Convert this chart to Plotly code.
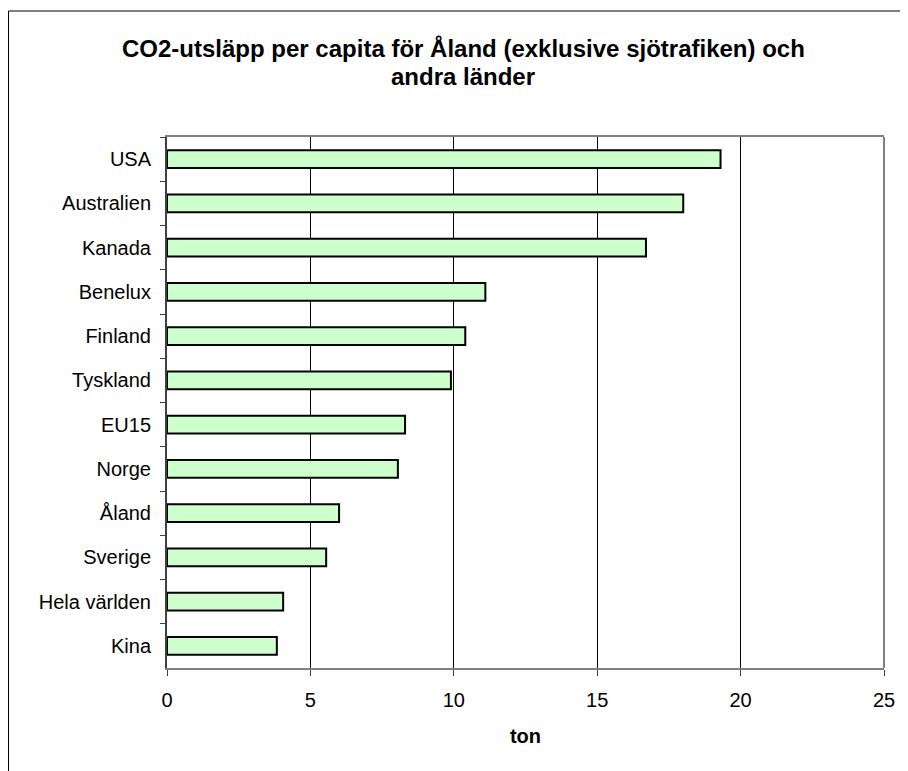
import plotly.graph_objects as go

categories = ["USA", "Australien", "Kanada", "Benelux", "Finland", "Tyskland",
              "EU15", "Norge", "Åland", "Sverige", "Hela världen", "Kina"]
values = [19.3, 18.0, 16.7, 11.1, 10.4, 9.9, 8.3, 8.05, 6.0, 5.55, 4.05, 3.83]
x_ticks = [0, 5, 10, 15, 20, 25]
title_line1 = "CO2-utsläpp per capita för Åland (exklusive sjötrafiken) och"
title_line2 = "andra länder"
x_title = "ton"

# page body has an 8px margin; figure coordinates = screen - 8
OFF = 8
W, H = 908 - OFF, 771 - OFF
L, R, T, B = 167 - OFF, 884 - OFF, 137 - OFF, 668 - OFF
pw, ph = R - L, B - T

def px(x):
    return (x - OFF - L) / pw

def py(y):
    return (B - (y - OFF)) / ph

FONT = "Liberation Sans, Arial, sans-serif"

fig = go.Figure(go.Bar(
    x=values, y=categories, orientation="h",
    marker=dict(color="#CCFFCC", line=dict(color="#000000", width=2)),
    width=0.4, hoverinfo="x+y",
))

fig.update_layout(
    width=W, height=H,
    margin=dict(l=L, r=W - R, t=T, b=H - B, pad=0),
    paper_bgcolor="white", plot_bgcolor="white",
    showlegend=False,
    font=dict(family=FONT, size=20, color="#000000"),
    xaxis=dict(
        range=[0, 25], tickvals=x_ticks, ticktext=[str(v) for v in x_ticks],
        showgrid=True, gridcolor="#000000", gridwidth=1,
        showline=True, linecolor="#808080", linewidth=2, mirror=True,
        ticks="outside", ticklen=6, tickcolor="#404040", tickwidth=1,
        ticklabelstandoff=7,
        zeroline=False,
        tickfont=dict(size=20),
        title=dict(text="<b>" + x_title + "</b>", font=dict(size=20), standoff=19),
        fixedrange=True,
    ),
    yaxis=dict(
        type="category", categoryorder="array", categoryarray=categories,
        autorange="reversed",
        showline=True, linecolor="#404040", linewidth=2,
        ticks="outside", ticklen=5, tickcolor="#404040", tickwidth=1,
        tickson="boundaries", showgrid=False, zeroline=False,
        ticklabelstandoff=10,
        tickfont=dict(size=20),
        fixedrange=True,
    ),
    shapes=[
        dict(type="line", xref="paper", yref="paper", x0=1, x1=1, y0=0, y1=1,
             line=dict(color="#808080", width=2)),
        dict(type="rect", xref="paper", yref="paper",
             x0=px(8.5), x1=px(915), y0=py(11), y1=py(780),
             line=dict(color="#000000", width=1), fillcolor="rgba(0,0,0,0)",
             layer="below"),
    ],
    annotations=[
        dict(text="<b>" + title_line1 + "</b>", xref="paper", yref="paper",
             x=px(463), y=py(48), xanchor="center", yanchor="middle",
             showarrow=False, font=dict(size=24)),
        dict(text="<b>" + title_line2 + "</b>", xref="paper", yref="paper",
             x=px(463), y=py(77), xanchor="center", yanchor="middle",
             showarrow=False, font=dict(size=24)),
    ],
)

fig.write_html("out.html")
